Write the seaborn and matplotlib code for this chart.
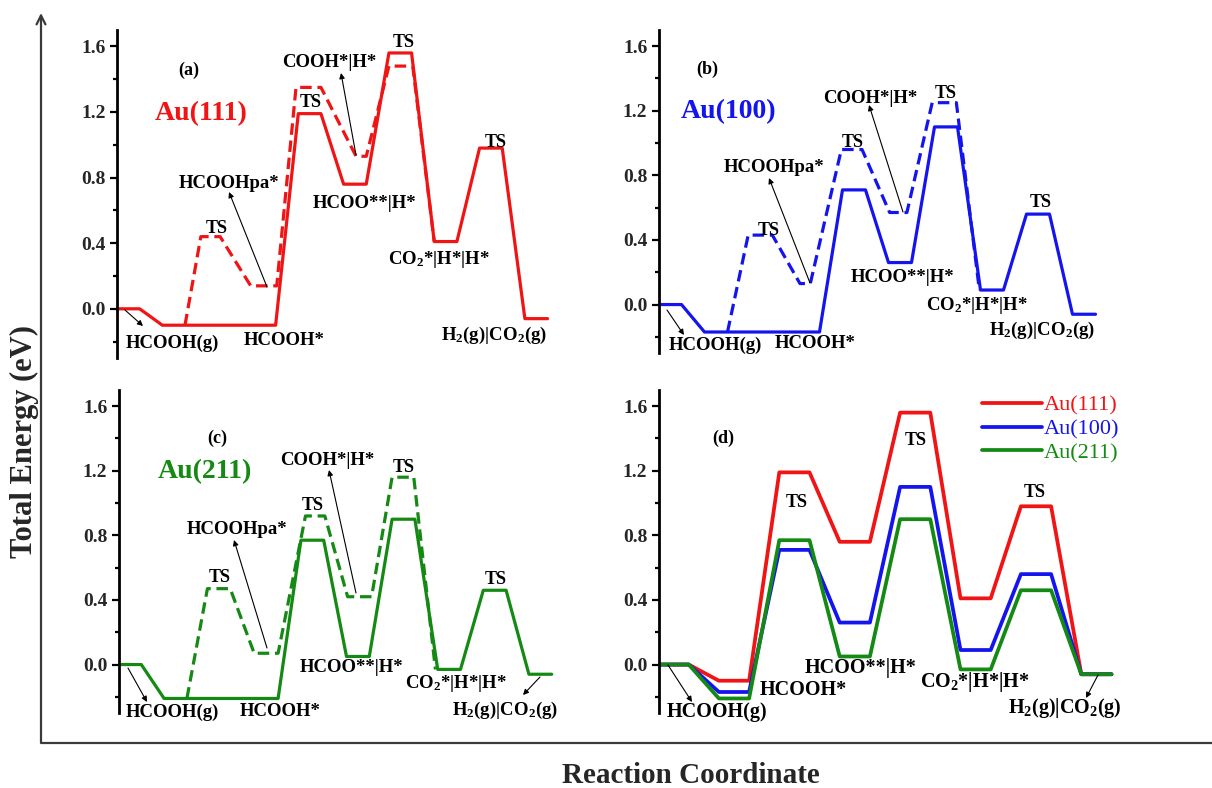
import matplotlib
matplotlib.use("Agg")
import matplotlib.pyplot as plt
from matplotlib.ticker import MultipleLocator, FormatStrFormatter
import seaborn as sns

# ---------------- data ----------------
# main (solid) path: state index along reaction coordinate
x_path = [0, 1, 2, 7, 8, 9, 10, 11, 12, 13, 14, 15, 16, 17, 18, 19]
e_a_solid = [0, 0, -0.10, -0.10, 1.19, 1.19, 0.76, 0.76, 1.56, 1.56, 0.41, 0.41, 0.98, 0.98, -0.06, -0.06]
e_b_solid = [0, 0, -0.17, -0.17, 0.71, 0.71, 0.26, 0.26, 1.10, 1.10, 0.09, 0.09, 0.56, 0.56, -0.06, -0.06]
e_c_solid = [0, 0, -0.21, -0.21, 0.77, 0.77, 0.05, 0.05, 0.90, 0.90, -0.03, -0.03, 0.46, 0.46, -0.06, -0.06]

# alternative (dashed) COOH path
x_a_dash = [3.0, 3.7, 4.55, 5.9, 7.05, 7.9, 9.0, 10.55, 11.0, 12.0, 13.05, 14.0]
e_a_dash = [-0.10, 0.44, 0.44, 0.14, 0.14, 1.35, 1.35, 0.93, 0.93, 1.48, 1.48, 0.41]
x_b_dash = [3.0, 3.9, 4.95, 6.15, 6.6, 7.95, 8.85, 10.05, 10.8, 11.9, 12.95, 13.95]
e_b_dash = [-0.17, 0.43, 0.43, 0.13, 0.13, 0.96, 0.96, 0.57, 0.57, 1.25, 1.25, 0.09]
x_c_dash = [3.0, 3.9, 4.9, 5.95, 7.0, 8.2, 9.05, 10.05, 11.1, 12.0, 12.95, 13.9]
e_c_dash = [-0.21, 0.47, 0.47, 0.07, 0.07, 0.92, 0.92, 0.42, 0.42, 1.16, 1.16, -0.03]

# panel (d): comparison of the HCOO path
x_cmp = list(range(16))
e_111 = [0, 0, -0.10, -0.10, 1.19, 1.19, 0.76, 0.76, 1.56, 1.56, 0.41, 0.41, 0.98, 0.98, -0.06, -0.06]
e_100 = [0, 0, -0.17, -0.17, 0.71, 0.71, 0.26, 0.26, 1.10, 1.10, 0.09, 0.09, 0.56, 0.56, -0.06, -0.06]
e_211 = [0, 0, -0.21, -0.21, 0.77, 0.77, 0.05, 0.05, 0.90, 0.90, -0.03, -0.03, 0.46, 0.46, -0.06, -0.06]
surfaces = ["Au(111)", "Au(100)", "Au(211)"]

RED, BLUE, GREEN = "#f01414", "#1414ee", "#148a14"

# ---------------- style ----------------
sns.set_style("white")
plt.rcParams["font.family"] = ["Liberation Serif", "DejaVu Serif"]
plt.rcParams["font.weight"] = "bold"
plt.rcParams["mathtext.fontset"] = "custom"
plt.rcParams["mathtext.rm"] = "Liberation Serif:bold"
plt.rcParams["mathtext.it"] = "Liberation Serif:bold"
plt.rcParams["mathtext.bf"] = "Liberation Serif:bold"
plt.rcParams["mathtext.default"] = "rm"

W, H = 1212, 788
fig = plt.figure(figsize=(W / 100, H / 100), dpi=100)


def make_ax(left, top, bottom, width, unit):
    ax = fig.add_axes([left / W, 1 - bottom / H, width / W, (bottom - top) / H])
    ax.set_facecolor("none")
    ax.set_xlim(0, width / unit)
    ax.set_ylim(-0.3, 1.7)
    for s in ["top", "right", "bottom"]:
        ax.spines[s].set_visible(False)
    ax.spines["left"].set_linewidth(2.0)
    ax.spines["left"].set_color("black")
    ax.set_xticks([])
    ax.yaxis.set_major_locator(MultipleLocator(0.4))
    ax.yaxis.set_minor_locator(MultipleLocator(0.2))
    ax.yaxis.set_major_formatter(FormatStrFormatter("%.1f"))
    ax.tick_params(axis="y", which="major", left=True, direction="out", length=5,
                   width=1.6, labelsize=14, pad=3, color="black")
    ax.tick_params(axis="y", which="minor", left=True, direction="out", length=3,
                   width=1.6, color="black")
    ax.grid(False)
    return ax


ax_a = make_ax(117, 30, 358, 445, 22.66)
ax_b = make_ax(658.5, 30, 353, 450, 23.0)
ax_c = make_ax(118.5, 390, 713, 445, 22.8)
ax_d = make_ax(658.5, 390, 713, 480, 30.2)

LW = 2.3
DASH = (0, (3.6, 1.8))
for ax, xs, es, xd, ed, col in [
    (ax_a, x_path, e_a_solid, x_a_dash, e_a_dash, RED),
    (ax_b, x_path, e_b_solid, x_b_dash, e_b_dash, BLUE),
    (ax_c, x_path, e_c_solid, x_c_dash, e_c_dash, GREEN),
]:
    sns.lineplot(x=xd, y=ed, ax=ax, color=col, lw=LW, sort=False, estimator=None,
                 linestyle=DASH)
    sns.lineplot(x=xs, y=es, ax=ax, color=col, lw=LW, sort=False, estimator=None)

for es, col in zip([e_111, e_100, e_211], [RED, BLUE, GREEN]):
    sns.lineplot(x=x_cmp, y=es, ax=ax_d, color=col, lw=2.7, sort=False, estimator=None)

for ax in [ax_a, ax_b, ax_c, ax_d]:
    ax.set_xlabel("")
    ax.set_ylabel("")

leg = ax_d.legend(ax_d.get_lines()[:3], surfaces, loc="upper left",
                  bbox_to_anchor=(0.674, 0.985), frameon=False, handlelength=2.7,
                  handletextpad=0.1, labelspacing=0.15, borderpad=0, borderaxespad=0,
                  prop={"family": "Liberation Serif", "weight": "normal", "size": 16},
                  labelcolor="linecolor")

# ---------------- overlay for annotations (pixel coords) ----------------
ov = fig.add_axes([0, 0, 1, 1], facecolor="none")
ov.set_xlim(0, W)
ov.set_ylim(H, 0)
ov.axis("off")

FRAME = "#3a3a3a"
ov.annotate("", xy=(41, 13), xytext=(41, 743),
            arrowprops=dict(arrowstyle="->", color=FRAME, lw=1.6, mutation_scale=16,
                            shrinkA=0, shrinkB=0))
ov.plot([41, W], [743, 743], color=FRAME, lw=1.6, solid_capstyle="butt")

ov.text(24, 442, "Total Energy (eV)", rotation=90, fontsize=22, ha="center", va="center")
ov.text(691, 783, "Reaction Coordinate", fontsize=21, ha="center", va="baseline")

CO2 = r"CO$_2$*|H*|H*"
H2CO2 = r"H$_2$(g)|CO$_2$(g)"
F = 13.5
T = 13
labels = [
    # panel (a)
    ("(a)", 189, 70, T, "black"), ("Au(111)", 201, 114, 20, RED),
    ("TS", 217, 228, T, "black"), ("TS", 311, 102, T, "black"),
    ("TS", 404, 42, T, "black"), ("TS", 496, 142, T, "black"),
    ("HCOOHpa*", 229, 183, F, "black"), ("COOH*|H*", 329, 62, F, "black"),
    ("HCOO**|H*", 365, 203, F, "black"), (CO2, 439, 260, F, "black"),
    (H2CO2, 494, 335, F, "black"), ("HCOOH(g)", 172, 343, F, "black"),
    ("HCOOH*", 284, 340, F, "black"),
    # panel (b)
    ("(b)", 707, 69, T, "black"), ("Au(100)", 729, 112, 20, BLUE),
    ("TS", 769, 230, T, "black"), ("TS", 853, 142, T, "black"),
    ("TS", 946, 93, T, "black"), ("TS", 1041, 202, T, "black"),
    ("HCOOHpa*", 774, 167, F, "black"), ("COOH*|H*", 870, 98, F, "black"),
    ("HCOO**|H*", 903, 277, F, "black"), (CO2, 977, 305, F, "black"),
    (H2CO2, 1042, 330, F, "black"), ("HCOOH(g)", 715, 345, F, "black"),
    ("HCOOH*", 815, 343, F, "black"),
    # panel (c)
    ("(c)", 217, 438, T, "black"), ("Au(211)", 205, 472, 20, GREEN),
    ("TS", 220, 578, T, "black"), ("TS", 313, 505, T, "black"),
    ("TS", 404, 467, T, "black"), ("TS", 496, 580, T, "black"),
    ("HCOOHpa*", 237, 530, F, "black"), ("COOH*|H*", 327, 460, F, "black"),
    ("HCOO**|H*", 352, 667, F, "black"), (CO2, 456, 683, F, "black"),
    (H2CO2, 505, 710, F, "black"), ("HCOOH(g)", 172, 712, F, "black"),
    ("HCOOH*", 280, 712, F, "black"),
    # panel (d)
    ("(d)", 723, 438, T, "black"),
    ("TS", 797, 502, T, "black"), ("TS", 916, 440, T, "black"),
    ("TS", 1035, 492, T, "black"),
    ("HCOOH*", 803, 690, 14.5, "black"), ("HCOO**|H*", 861, 668, 14.5, "black"),
    (CO2, 975, 682, 14.5, "black"), (H2CO2, 1065, 708, 14.5, "black"),
    ("HCOOH(g)", 717, 712, 14.5, "black"),
]
for s, x, y, fs, c in labels:
    ov.text(x, y, s, fontsize=fs, color=c, ha="center", va="center", fontweight="bold")

arrows = [
    ((125, 310), (143, 326)), ((267, 287), (229, 192)), ((356, 155), (341, 73)),
    ((667, 310), (684, 335)), ((810, 283), (769, 178)), ((903, 212), (869, 105)),
    ((128, 668), (147, 702)), ((267, 648), (234, 540)), ((356, 593), (329, 470)),
    ((540, 677), (523, 695)),
    ((668, 665), (692, 702)), ((1098, 675), (1086, 698)),
]
for tail, head in arrows:
    ov.annotate("", xy=head, xytext=tail,
                arrowprops=dict(arrowstyle="-|>", color="black", lw=0.8,
                                mutation_scale=8, shrinkA=0, shrinkB=0))

fig.savefig("out.png", dpi=100)
